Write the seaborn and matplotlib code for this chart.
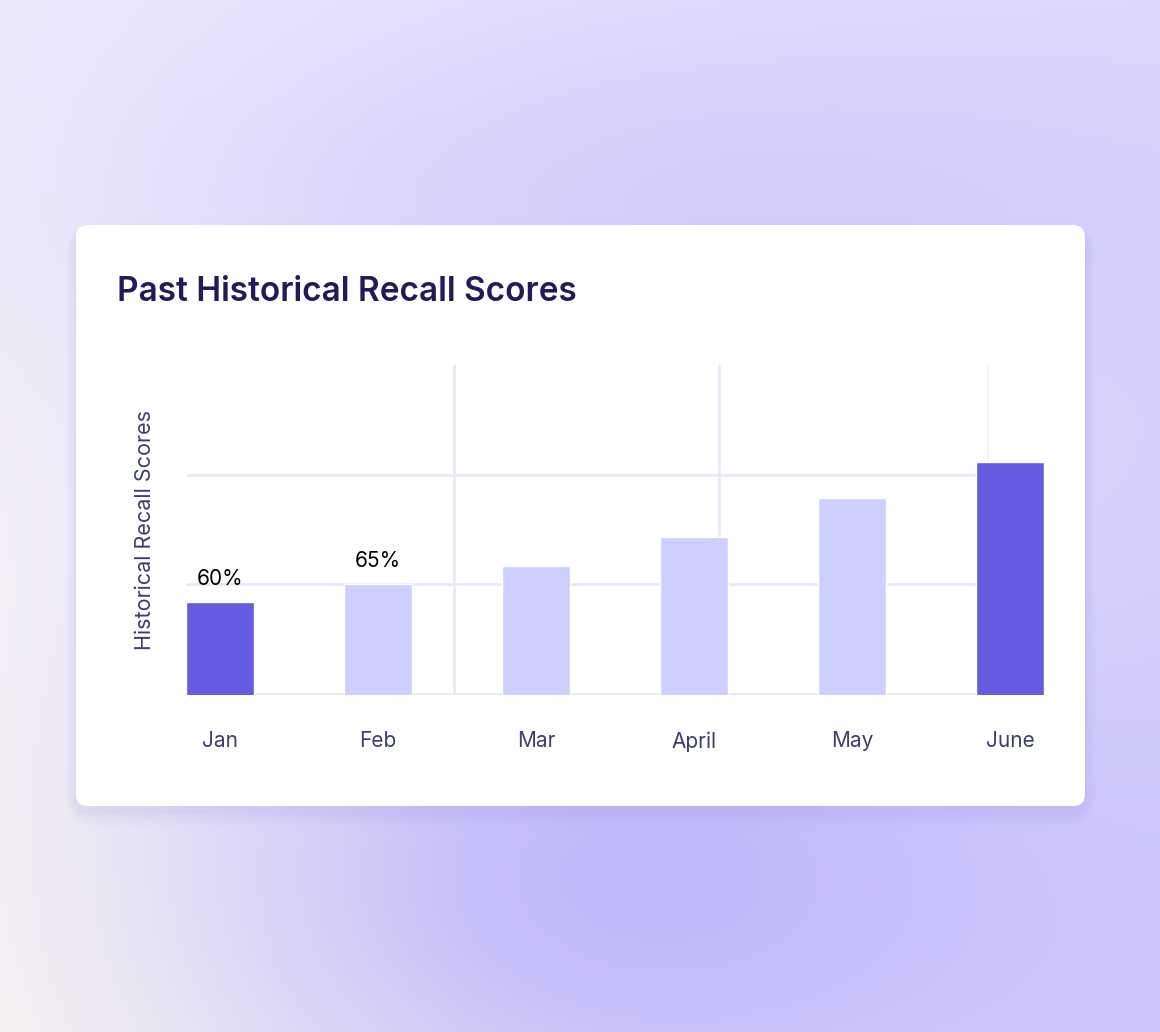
import numpy as np
import pandas as pd
import matplotlib
matplotlib.use("Agg")
import matplotlib.pyplot as plt
from matplotlib.patches import FancyBboxPatch
import seaborn as sns

# chart data
months = ["Jan", "Feb", "Mar", "April", "May", "June"]
scores = [60, 65, 70, 78, 89, 99]
highlight = [True, False, False, False, False, True]
labelled = ["60%", "65%", None, None, None, None]

DARK = "#635BE0"
LIGHT = "#CCCFFF"
GRID = "#E9E7F6"

sns.set_theme(style="white")
plt.rcParams["font.family"] = ["Inter", "DejaVu Sans"]

W, H = 1160, 1032
fig = plt.figure(figsize=(W / 100, H / 100), dpi=100)

# background gradient
bg = fig.add_axes([0, 0, 1, 1])
yy, xx = np.mgrid[0:1:260j, 0:1:290j]
tl = np.array([237, 233, 252]) / 255
tr = np.array([222, 218, 252]) / 255
bl = np.array([247, 243, 241]) / 255
br = np.array([206, 200, 252]) / 255
img = (tl * ((1 - xx) * (1 - yy))[..., None] + tr * (xx * (1 - yy))[..., None]
       + bl * ((1 - xx) * yy)[..., None] + br * (xx * yy)[..., None])
blob = np.exp(-(((xx - 0.55) / 0.35) ** 2 + ((yy - 0.85) / 0.25) ** 2))
blob2 = np.exp(-(((xx - 0.6) / 0.45) ** 2 + ((yy - 0.2) / 0.18) ** 2))
purple = np.array([180, 172, 250]) / 255
img = img * (1 - 0.75 * blob[..., None]) + purple * 0.75 * blob[..., None]
img = img * (1 - 0.35 * blob2[..., None]) + purple * 0.35 * blob2[..., None]
bg.imshow(np.clip(img, 0, 1), extent=[0, W, H, 0], aspect="auto", interpolation="bicubic")
bg.set_xlim(0, W)
bg.set_ylim(H, 0)
bg.axis("off")

# card with soft shadow
cx0, cy0, cx1, cy1 = 76, 225, 1085, 806
for i, a in enumerate([0.05, 0.04, 0.03, 0.02]):
    g = 4 + i * 6
    bg.add_patch(FancyBboxPatch((cx0 - g / 2, cy0 - g / 3 + 6), cx1 - cx0 + g, cy1 - cy0 + g,
                                boxstyle="round,pad=0,rounding_size=%d" % (12 + g),
                                fc="#8F84E8", ec="none", alpha=a))
bg.add_patch(FancyBboxPatch((cx0, cy0), cx1 - cx0, cy1 - cy0,
                            boxstyle="round,pad=0,rounding_size=12",
                            fc="white", ec="none"))

fig.text(117 / W, 1 - 292 / H, "Past Historical Recall Scores", fontsize=24,
         fontweight="semibold", color="#1F1B5C", va="center", ha="left")

# bar chart axes
ax = fig.add_axes([186 / W, 1 - 695 / H, (1044 - 186) / W, (695 - 365) / H])
ax.set_facecolor("none")
df = pd.DataFrame({"month": months, "score": scores, "hl": highlight})
sns.barplot(data=df, x="month", y="score", hue="month",
            palette=[DARK if h else LIGHT for h in highlight],
            width=0.43, legend=False, ax=ax, saturation=1)

ax.set_xlim(-0.215, 5.215)
ax.set_ylim(34.0, 125.9)
ax.set_yticks([34.4, 64.8, 95.3])
ax.set_xticks([1.48, 3.16], minor=True)
ax.grid(axis="y", which="major", color=GRID, lw=1.8)
ax.grid(axis="x", which="minor", color=GRID, lw=1.8)
ax.grid(axis="x", which="major", visible=False)
ax.axvline(4.86, color=GRID, lw=1.2, alpha=0.6, zorder=0)
ax.set_axisbelow(True)
ax.tick_params(axis="y", left=False, labelleft=False)
ax.tick_params(axis="x", which="both", bottom=False, labelsize=15, labelcolor="#3A3F6D", pad=20)
for s in ax.spines.values():
    s.set_visible(False)
ax.set_xlabel("")
ax.set_ylabel("Historical Recall Scores", fontsize=15.5, color="#3A3F6D", labelpad=22)

for i, (v, lab) in enumerate(zip(scores, labelled)):
    if lab:
        ax.annotate(lab, (i, v), xytext=(0, 9), textcoords="offset points",
                    ha="center", va="bottom", fontsize=15, color="black")

fig.savefig("out.png", dpi=100)
